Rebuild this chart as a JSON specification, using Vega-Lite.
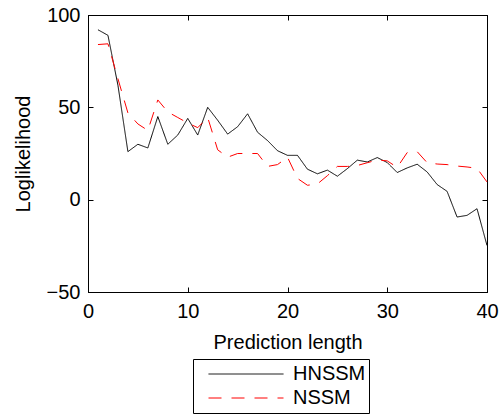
{
  "$schema": "https://vega.github.io/schema/vega-lite/v6.json",
  "autosize": {"type": "none"},
  "width": 399,
  "height": 277,
  "padding": {"left": 88, "top": 15, "right": 12, "bottom": 125},
  "config": {
    "font": "Liberation Sans",
    "view": {"stroke": "black", "strokeWidth": 1},
    "axis": {"domainColor": "black", "tickColor": "black", "labelColor": "black", "titleColor": "black", "labelFont": "Liberation Sans", "titleFont": "Liberation Sans", "labelFontSize": 20, "titleFontSize": 20, "titleFontWeight": "normal", "grid": false, "tickSize": -5, "domainWidth": 1, "tickWidth": 1, "labelFlush": false, "labelOverlap": false}
  },
  "data": {"values": [
    {"x":1,"s":"HNSSM","v":92},{"x":2,"s":"HNSSM","v":89},{"x":3,"s":"HNSSM","v":62},{"x":4,"s":"HNSSM","v":26},{"x":5,"s":"HNSSM","v":30},
    {"x":6,"s":"HNSSM","v":28},{"x":7,"s":"HNSSM","v":45},{"x":8,"s":"HNSSM","v":30},{"x":9,"s":"HNSSM","v":35},{"x":10,"s":"HNSSM","v":44},
    {"x":11,"s":"HNSSM","v":35},{"x":12,"s":"HNSSM","v":50},{"x":13,"s":"HNSSM","v":43},{"x":14,"s":"HNSSM","v":35.5},{"x":15,"s":"HNSSM","v":39.5},
    {"x":16,"s":"HNSSM","v":46.5},{"x":17,"s":"HNSSM","v":36.5},{"x":18,"s":"HNSSM","v":32},{"x":19,"s":"HNSSM","v":26.5},{"x":20,"s":"HNSSM","v":24},
    {"x":21,"s":"HNSSM","v":24},{"x":22,"s":"HNSSM","v":16.5},{"x":23,"s":"HNSSM","v":14},{"x":24,"s":"HNSSM","v":16},{"x":25,"s":"HNSSM","v":12.7},
    {"x":26,"s":"HNSSM","v":16.8},{"x":27,"s":"HNSSM","v":21.4},{"x":28,"s":"HNSSM","v":20.4},{"x":29,"s":"HNSSM","v":22.8},{"x":30,"s":"HNSSM","v":20.1},
    {"x":31,"s":"HNSSM","v":14.7},{"x":32,"s":"HNSSM","v":17.2},{"x":33,"s":"HNSSM","v":19.2},{"x":34,"s":"HNSSM","v":15},{"x":35,"s":"HNSSM","v":8.2},
    {"x":36,"s":"HNSSM","v":4.5},{"x":37,"s":"HNSSM","v":-9.4},{"x":38,"s":"HNSSM","v":-8.5},{"x":39,"s":"HNSSM","v":-4.9},{"x":40,"s":"HNSSM","v":-24.8},
    {"x":1,"s":"NSSM","v":84},{"x":2,"s":"NSSM","v":84.4},{"x":3,"s":"NSSM","v":65.5},{"x":4,"s":"NSSM","v":47},{"x":5,"s":"NSSM","v":41},
    {"x":6,"s":"NSSM","v":37.5},{"x":7,"s":"NSSM","v":54},{"x":8,"s":"NSSM","v":47.5},{"x":9,"s":"NSSM","v":44.5},{"x":10,"s":"NSSM","v":41.5},
    {"x":11,"s":"NSSM","v":39},{"x":12,"s":"NSSM","v":44.5},{"x":13,"s":"NSSM","v":27},{"x":14,"s":"NSSM","v":23},{"x":15,"s":"NSSM","v":25},
    {"x":16,"s":"NSSM","v":25},{"x":17,"s":"NSSM","v":25},{"x":18,"s":"NSSM","v":18},{"x":19,"s":"NSSM","v":19},{"x":20,"s":"NSSM","v":23},
    {"x":21,"s":"NSSM","v":11.5},{"x":22,"s":"NSSM","v":7.8},{"x":23,"s":"NSSM","v":8.5},{"x":24,"s":"NSSM","v":13},{"x":25,"s":"NSSM","v":18},
    {"x":26,"s":"NSSM","v":18},{"x":27,"s":"NSSM","v":18.5},{"x":28,"s":"NSSM","v":20},{"x":29,"s":"NSSM","v":21.5},{"x":30,"s":"NSSM","v":21},
    {"x":31,"s":"NSSM","v":17.5},{"x":32,"s":"NSSM","v":25.5},{"x":33,"s":"NSSM","v":26},{"x":34,"s":"NSSM","v":20},{"x":35,"s":"NSSM","v":19.3},
    {"x":36,"s":"NSSM","v":19},{"x":37,"s":"NSSM","v":18.2},{"x":38,"s":"NSSM","v":17.7},{"x":39,"s":"NSSM","v":17},{"x":40,"s":"NSSM","v":9.6}
  ]},
  "layer": [
    {
      "mark": {"type": "line", "strokeWidth": 1},
      "encoding": {
        "x": {"field": "x", "type": "quantitative", "scale": {"domain": [0, 40], "nice": false, "zero": false},
              "axis": {"orient": "bottom", "values": [0, 10, 20, 30, 40], "title": "Prediction length", "labelPadding": 14, "titleBaseline": "alphabetic", "titleY": 56, "titleX": 199.5}},
        "y": {"field": "v", "type": "quantitative", "scale": {"domain": [-50, 100], "nice": false},
              "axis": {"orient": "left", "values": [-50, 0, 50, 100], "title": "Loglikelihood", "labelPadding": 13, "titleBaseline": "alphabetic", "titleX": -59, "titleY": 138.5}},
        "color": {"field": "s", "type": "nominal", "scale": {"domain": ["HNSSM", "NSSM"], "range": ["black", "#ff0000"]},
                  "legend": {"title": null, "orient": "none", "legendX": 105, "legendY": 344, "direction": "vertical",
                             "strokeColor": "black", "fillColor": "white", "padding": 3, "clipHeight": 24, "rowPadding": 0,
                             "symbolType": "stroke", "symbolSize": 5625, "symbolStrokeWidth": 1, "symbolOffset": 12,
                             "labelOffset": 9, "labelFontSize": 20, "labelFont": "Liberation Sans", "labelColor": "black",
                             "labelExpr": "datum.label + '   '"}},
        "strokeDash": {"field": "s", "type": "nominal", "scale": {"domain": ["HNSSM", "NSSM"], "range": [[1, 0], [13, 10]]},
                  "legend": {"title": null, "orient": "none", "legendX": 105, "legendY": 344, "direction": "vertical",
                             "strokeColor": "black", "fillColor": "white", "padding": 3, "clipHeight": 24, "rowPadding": 0,
                             "symbolType": "stroke", "symbolSize": 5625, "symbolStrokeWidth": 1, "symbolOffset": 12,
                             "labelOffset": 9, "labelFontSize": 20, "labelFont": "Liberation Sans", "labelColor": "black",
                             "labelExpr": "datum.label + '   '"}}
      }
    },
    {
      "mark": {"type": "point", "opacity": 0},
      "encoding": {
        "x": {"field": "x", "type": "quantitative", "axis": {"orient": "top", "values": [0, 10, 20, 30, 40], "labels": false, "title": null}},
        "y": {"field": "v", "type": "quantitative", "axis": {"orient": "right", "values": [-50, 0, 50, 100], "labels": false, "title": null}}
      }
    }
  ],
  "resolve": {"axis": {"x": "independent", "y": "independent"}}
}
